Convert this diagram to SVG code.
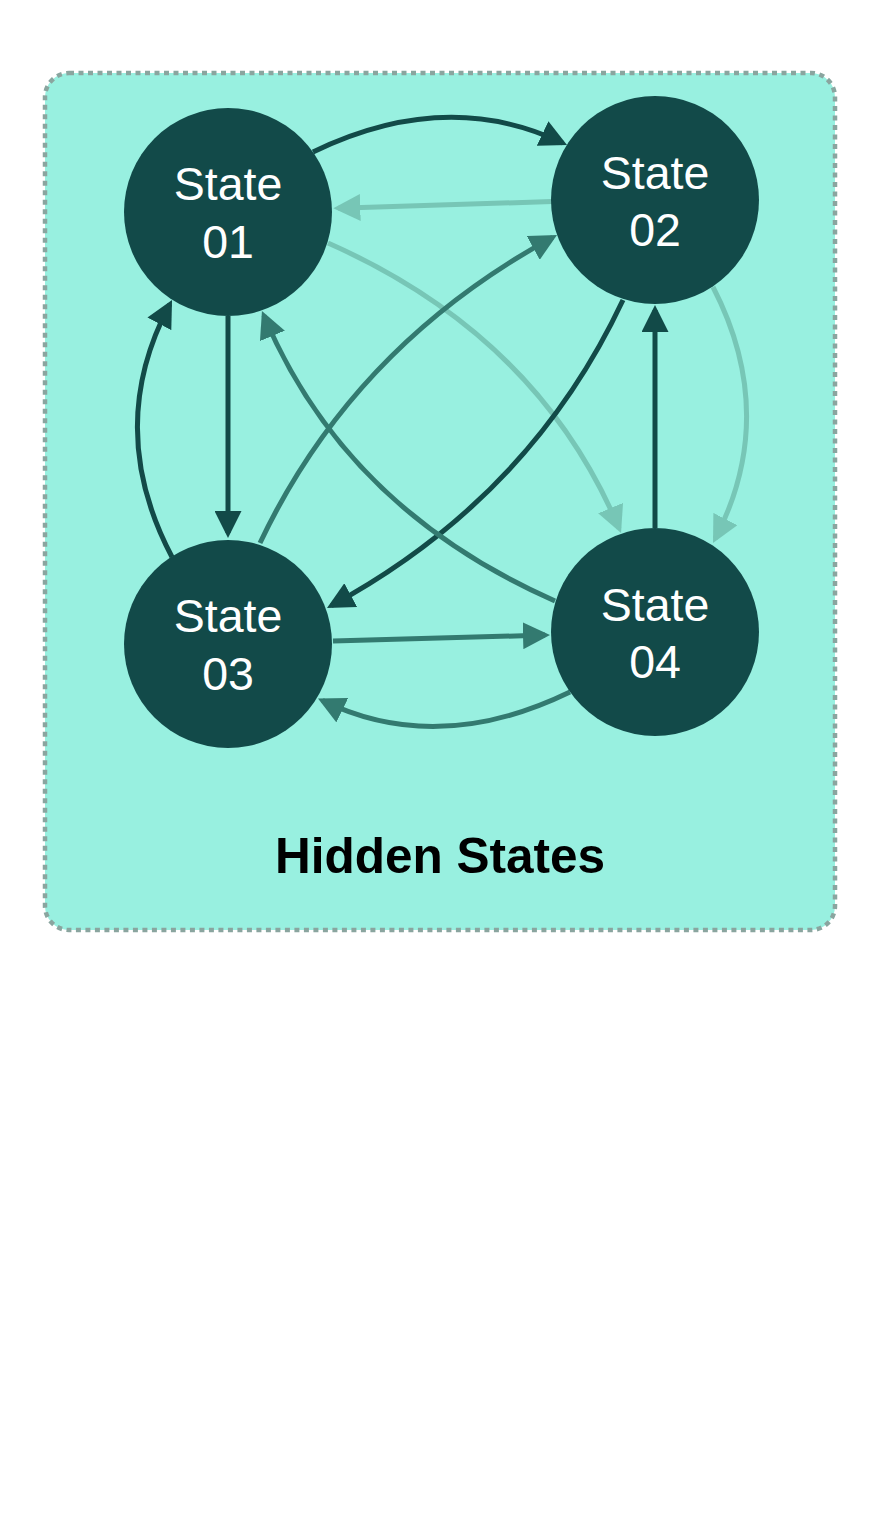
<svg xmlns="http://www.w3.org/2000/svg" width="878" height="1536" viewBox="0 0 878 1536">
  <style>
    .frame { fill: #98f0e0; stroke: #8aa59f; stroke-width: 4.5; stroke-dasharray: 5 4.5; }
    .node { fill: #124a49; }
    .lbl { font-family: "Liberation Sans", Arial, sans-serif; font-size: 46.5px; fill: #ffffff; text-anchor: middle; }
    .title { font-family: "Liberation Sans", Arial, sans-serif; font-size: 49.5px; font-weight: bold; fill: #000000; text-anchor: middle; }
    .e { fill: none; stroke-width: 5; }
    .dark { stroke: #124a48; }
    .mid { stroke: #337a70; }
    .light { stroke: #77c6b6; }
  </style>
  <defs>
    <marker id="ah-dark" markerUnits="userSpaceOnUse" markerWidth="27" markerHeight="27" refX="22" refY="13.5" orient="auto">
      <path d="M0,0 L27,13.5 L0,27 z" fill="#124a48"/>
    </marker>
    <marker id="ah-mid" markerUnits="userSpaceOnUse" markerWidth="27" markerHeight="27" refX="22" refY="13.5" orient="auto">
      <path d="M0,0 L27,13.5 L0,27 z" fill="#337a70"/>
    </marker>
    <marker id="ah-light" markerUnits="userSpaceOnUse" markerWidth="27" markerHeight="27" refX="22" refY="13.5" orient="auto">
      <path d="M0,0 L27,13.5 L0,27 z" fill="#77c6b6"/>
    </marker>
  </defs>

  <g id="hidden-states">
    <rect class="frame" x="45" y="73" width="790" height="857" rx="24" ry="24"/>
    <text class="title" x="440" y="873">Hidden States</text>
  </g>

  <g id="connectors">
    <!-- 01 -> 02 -->
    <path class="e dark" d="M313,152 Q446,87.5 562.5,142.9" marker-end="url(#ah-dark)"/>
    <!-- 02 -> 01 -->
    <path class="e light" d="M552,201.5 L338.3,208.2" marker-end="url(#ah-light)"/>
    <!-- 01 -> 04 -->
    <path class="e light" d="M328,243 Q538.2,335.8 619.1,528.4" marker-end="url(#ah-light)"/>
    <!-- 03 -> 02 -->
    <path class="e mid" d="M260,543 Q353.3,346 552.6,237.4" marker-end="url(#ah-mid)"/>
    <!-- 02 -> 03 -->
    <path class="e dark" d="M623,300 Q530,498 331.4,605.6" marker-end="url(#ah-dark)"/>
    <!-- 04 -> 01 -->
    <path class="e mid" d="M555,601 Q344.8,508.2 263.9,315.6" marker-end="url(#ah-mid)"/>
    <!-- 01 -> 03 -->
    <path class="e dark" d="M228,316 L228,533" marker-end="url(#ah-dark)"/>
    <!-- 03 -> 01 -->
    <path class="e dark" d="M172,557 Q104,428 169.7,304.4" marker-end="url(#ah-dark)"/>
    <!-- 04 -> 02 -->
    <path class="e dark" d="M655,528 L655,310" marker-end="url(#ah-dark)"/>
    <!-- 02 -> 04 -->
    <path class="e light" d="M713,287 Q779,415 715.3,538.6" marker-end="url(#ah-light)"/>
    <!-- 03 -> 04 -->
    <path class="e mid" d="M333,641 L545,635.1" marker-end="url(#ah-mid)"/>
    <!-- 04 -> 03 -->
    <path class="e mid" d="M570,692 Q437,756.5 322.5,700.6" marker-end="url(#ah-mid)"/>
  </g>

  <g id="state01">
    <circle class="node" cx="228" cy="212" r="104"/>
    <text class="lbl" x="228" y="200">State</text>
    <text class="lbl" x="228" y="258">01</text>
  </g>
  <g id="state02">
    <circle class="node" cx="655" cy="200" r="104"/>
    <text class="lbl" x="655" y="189">State</text>
    <text class="lbl" x="655" y="246">02</text>
  </g>
  <g id="state03">
    <circle class="node" cx="228" cy="644" r="104"/>
    <text class="lbl" x="228" y="632">State</text>
    <text class="lbl" x="228" y="690">03</text>
  </g>
  <g id="state04">
    <circle class="node" cx="655" cy="632" r="104"/>
    <text class="lbl" x="655" y="621">State</text>
    <text class="lbl" x="655" y="678">04</text>
  </g>
</svg>
